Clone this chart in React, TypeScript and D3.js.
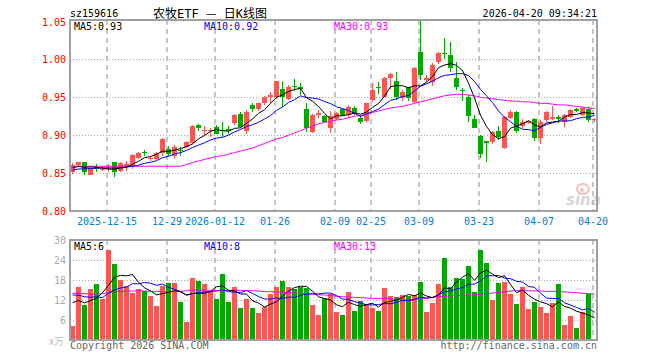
import React, { useEffect, useRef } from "react";
import * as d3 from "d3";

// trading days shown on the chart
const tradeDates = [
  "2025-12-05", "2025-12-08", "2025-12-09", "2025-12-10", "2025-12-11", "2025-12-12",
  "2025-12-15", "2025-12-16", "2025-12-17", "2025-12-18", "2025-12-19",
  "2025-12-22", "2025-12-23", "2025-12-24", "2025-12-25", "2025-12-26",
  "2025-12-29", "2025-12-30", "2025-12-31",
  "2026-01-05", "2026-01-06", "2026-01-07", "2026-01-08", "2026-01-09",
  "2026-01-12", "2026-01-13", "2026-01-14", "2026-01-15", "2026-01-16",
  "2026-01-19", "2026-01-20", "2026-01-21", "2026-01-22", "2026-01-23",
  "2026-01-26", "2026-01-27", "2026-01-28", "2026-01-29", "2026-01-30",
  "2026-02-02", "2026-02-03", "2026-02-04", "2026-02-05", "2026-02-06",
  "2026-02-09", "2026-02-10", "2026-02-11", "2026-02-12", "2026-02-13",
  "2026-02-24", "2026-02-25", "2026-02-26", "2026-02-27",
  "2026-03-02", "2026-03-03", "2026-03-04", "2026-03-05", "2026-03-06",
  "2026-03-09", "2026-03-10", "2026-03-11", "2026-03-12", "2026-03-13",
  "2026-03-16", "2026-03-17", "2026-03-18", "2026-03-19", "2026-03-20",
  "2026-03-23", "2026-03-24", "2026-03-25", "2026-03-26", "2026-03-27",
  "2026-03-30", "2026-03-31", "2026-04-01", "2026-04-02", "2026-04-03",
  "2026-04-07", "2026-04-08", "2026-04-09", "2026-04-10",
  "2026-04-13", "2026-04-14", "2026-04-15", "2026-04-16", "2026-04-17",
  "2026-04-20"
];

const openPrices = [
  0.851, 0.861, 0.864, 0.848, 0.858, 0.855, 0.856, 0.864, 0.853, 0.860,
  0.859, 0.870, 0.878, 0.868, 0.869, 0.876, 0.882, 0.872, 0.881, 0.885,
  0.890, 0.913, 0.906, 0.906, 0.911, 0.907, 0.908, 0.916, 0.928, 0.906,
  0.940, 0.934, 0.942, 0.951, 0.950, 0.961, 0.948, 0.965, 0.963, 0.934,
  0.904, 0.927, 0.925, 0.910, 0.922, 0.934, 0.927, 0.936, 0.923, 0.919,
  0.946, 0.963, 0.951, 0.975, 0.972, 0.949, 0.963, 0.944, 1.010, 0.973,
  0.970, 0.997, 1.009, 1.006, 0.975, 0.960, 0.951, 0.922, 0.899, 0.892,
  0.891, 0.906, 0.883, 0.923, 0.930, 0.912, 0.916, 0.921, 0.896, 0.920,
  0.922, 0.924, 0.918, 0.924, 0.935, 0.926, 0.935, 0.920
];

const highPrices = [
  0.863, 0.865, 0.864, 0.858, 0.862, 0.860, 0.862, 0.865, 0.864, 0.866,
  0.875, 0.878, 0.881, 0.873, 0.878, 0.896, 0.886, 0.887, 0.885, 0.892,
  0.913, 0.915, 0.912, 0.909, 0.913, 0.918, 0.912, 0.928, 0.930, 0.933,
  0.942, 0.943, 0.952, 0.957, 0.972, 0.971, 0.966, 0.974, 0.969, 0.943,
  0.928, 0.933, 0.926, 0.932, 0.930, 0.935, 0.940, 0.938, 0.927, 0.943,
  0.969, 0.970, 0.977, 0.982, 0.983, 0.960, 0.964, 0.990, 1.052, 0.980,
  0.995, 1.010, 1.028, 1.023, 0.997, 0.962, 0.953, 0.927, 0.900, 0.892,
  0.905, 0.912, 0.925, 0.933, 0.932, 0.921, 0.920, 0.923, 0.920, 0.932,
  0.938, 0.927, 0.928, 0.935, 0.936, 0.937, 0.937, 0.923
];

const lowPrices = [
  0.849, 0.860, 0.848, 0.847, 0.852, 0.853, 0.852, 0.845, 0.851, 0.853,
  0.855, 0.868, 0.873, 0.866, 0.867, 0.873, 0.873, 0.869, 0.872, 0.883,
  0.889, 0.905, 0.900, 0.898, 0.901, 0.897, 0.901, 0.913, 0.909, 0.902,
  0.930, 0.932, 0.940, 0.943, 0.948, 0.937, 0.946, 0.958, 0.953, 0.904,
  0.903, 0.923, 0.916, 0.903, 0.920, 0.925, 0.923, 0.927, 0.915, 0.918,
  0.944, 0.955, 0.950, 0.961, 0.947, 0.945, 0.945, 0.943, 0.973, 0.970,
  0.965, 0.994, 1.000, 0.983, 0.960, 0.945, 0.918, 0.910, 0.870, 0.865,
  0.889, 0.894, 0.882, 0.921, 0.903, 0.910, 0.915, 0.893, 0.889, 0.918,
  0.920, 0.916, 0.911, 0.923, 0.930, 0.925, 0.918, 0.918
];

const closePrices = [
  0.861, 0.864, 0.851, 0.857, 0.855, 0.856, 0.857, 0.852, 0.863, 0.862,
  0.874, 0.877, 0.876, 0.870, 0.877, 0.895, 0.875, 0.885, 0.879, 0.891,
  0.912, 0.909, 0.907, 0.907, 0.902, 0.905, 0.905, 0.926, 0.911, 0.931,
  0.934, 0.942, 0.950, 0.953, 0.971, 0.950, 0.964, 0.963, 0.961, 0.909,
  0.927, 0.929, 0.918, 0.925, 0.929, 0.927, 0.937, 0.928, 0.918, 0.942,
  0.959, 0.962, 0.976, 0.981, 0.950, 0.957, 0.949, 0.989, 0.980, 0.975,
  0.993, 1.008, 1.007, 0.989, 0.964, 0.958, 0.925, 0.910, 0.875, 0.890,
  0.904, 0.898, 0.924, 0.930, 0.905, 0.918, 0.919, 0.896, 0.917, 0.931,
  0.924, 0.922, 0.926, 0.933, 0.932, 0.936, 0.920, 0.921
];

// 万 (10k) shares
const volumes = [
  4.2, 15.9, 10.5, 15.3, 16.8, 12.3, 27.0, 22.8, 18.0, 16.2,
  14.2, 15.3, 14.7, 13.2, 10.2, 16.3, 17.1, 17.1, 11.4, 5.4,
  18.6, 17.7, 16.8, 14.4, 12.3, 19.8, 11.4, 15.9, 9.6, 12.3,
  9.6, 8.1, 9.9, 13.8, 15.9, 17.7, 15.9, 15.3, 15.9, 15.6,
  10.5, 7.5, 12.6, 13.8, 8.5, 7.5, 14.4, 8.7, 11.7, 10.8,
  9.6, 8.7, 15.6, 13.2, 12.9, 13.5, 13.2, 13.5, 17.4, 8.4,
  11.1, 16.8, 24.6, 15.9, 18.6, 18.3, 22.2, 14.4, 27.0, 23.1,
  12.0, 17.1, 17.4, 13.8, 10.8, 15.9, 9.3, 11.4, 9.9, 8.1,
  11.1, 16.8, 4.5, 7.2, 3.6, 8.4, 13.8, 0.3
];

// days before the visible window, only used to start the short averages
const earlierCloses = [0.850, 0.849, 0.853, 0.851, 0.852, 0.855, 0.857, 0.854, 0.858];
const earlierVolumes = [16.5, 15.0, 17.2, 14.8, 15.5, 12.6, 14.1, 11.9, 13.2];

// MA30
const priceMa30 = [
  0.859, 0.859, 0.859, 0.859, 0.859, 0.859, 0.859, 0.859, 0.859, 0.859,
  0.859, 0.859, 0.859, 0.859, 0.859, 0.859, 0.859, 0.859, 0.859, 0.861,
  0.864, 0.866, 0.868, 0.870, 0.872, 0.873, 0.875, 0.877, 0.879, 0.881,
  0.883, 0.886, 0.889, 0.892, 0.895, 0.897, 0.900, 0.903, 0.906, 0.909,
  0.912, 0.915, 0.917, 0.918, 0.920, 0.921, 0.923, 0.925, 0.926, 0.928,
  0.930, 0.932, 0.934, 0.936, 0.937, 0.938, 0.940, 0.942, 0.944, 0.946,
  0.948, 0.950, 0.952, 0.953, 0.954, 0.954, 0.953, 0.952, 0.950, 0.949,
  0.948, 0.947, 0.946, 0.945, 0.945, 0.944, 0.944, 0.943, 0.942, 0.942,
  0.941, 0.940, 0.940, 0.939, 0.938, 0.937, 0.936, 0.935
];

const volumeMa30 = [
  14.0, 14.0, 13.9, 13.8, 13.8, 13.9, 14.2, 14.5, 14.6, 14.6,
  14.7, 14.7, 14.7, 14.6, 14.6, 14.5, 14.5, 14.5, 14.6, 14.8,
  15.0, 15.0, 14.9, 14.9, 14.8, 14.8, 14.8, 14.8, 14.8, 14.8,
  14.8, 14.7, 14.5, 14.5, 14.4, 14.3, 14.2, 14.1, 14.0, 13.9,
  13.8, 13.6, 13.5, 13.4, 13.1, 13.0, 12.9, 12.8, 12.7, 12.6,
  12.5, 12.5, 12.4, 12.3, 12.2, 12.1, 12.0, 12.1, 12.3, 12.5,
  12.8, 13.0, 13.1, 13.2, 13.3, 13.4, 13.5, 13.6, 13.8, 14.0,
  14.1, 14.3, 14.5, 14.7, 14.8, 14.8, 14.8, 14.7, 14.7, 14.6,
  14.6, 14.5, 14.4, 14.3, 14.2, 14.0, 13.9, 13.8
];

const priceTicks = [0.8, 0.85, 0.9, 0.95, 1.0, 1.05];
const volumeTicks = [0, 6, 12, 18, 24, 30];
const tickDates = [
  "2025-12-15", "2025-12-29", "2026-01-12", "2026-01-26", "2026-02-09",
  "2026-02-25", "2026-03-09", "2026-03-23", "2026-04-07", "2026-04-20"
];
const priceMaLabels = ["MA5:0.93", "MA10:0.92", "MA30:0.93"];
const volumeMaLabels = ["MA5:6", "MA10:8", "MA30:13"];

const UP = "#ff5555";
const DOWN = "#00a800";
const MA_COLORS = ["#000000", "#0000ff", "#ff00ff"];
const MONO = "'DejaVu Sans Mono', monospace";
const CJK = "'Noto Sans CJK SC', sans-serif";

function movingAverage(values: number[], earlier: number[], n: number) {
  const all = earlier.concat(values);
  const off = earlier.length;
  return values.map((_, i) =>
    d3.mean(all.slice(Math.max(0, off + i - n + 1), off + i + 1)) as number
  );
}

export default function App() {
  const chartRef = useRef<SVGSVGElement>(null);

  useEffect(() => {
    const svg = d3.select(chartRef.current);
    const n = closePrices.length;
    const left = 70;
    const right = 597;
    const price = { top: 20, bottom: 211 };
    const vol = { top: 240, bottom: 340 };

    const x = d3
      .scaleBand<number>()
      .domain(d3.range(n))
      .range([left, left + n * 6]);
    const cx = (i: number) => (x(i) as number) + 2.5;

    const yPrice = d3.scaleLinear().domain([0.8, 1.05]).range([price.bottom, 21.5]);
    const yVol = d3.scaleLinear().domain([0, 30]).range([vol.bottom, vol.top]);

    const isUp = (i: number) => closePrices[i] >= openPrices[i];
    const color = (i: number) => (isUp(i) ? UP : DOWN);

    svg.append("rect").attr("width", 660).attr("height", 360).attr("fill", "#fff");

    // header
    svg.append("text").attr("x", 70).attr("y", 17).attr("font-family", MONO)
      .attr("font-size", 10).text("sz159616");
    const title = svg.append("text").attr("x", 210).attr("y", 18).attr("text-anchor", "middle")
      .attr("font-family", `'DejaVu Sans Mono', ${CJK}`).attr("font-size", 12);
    title.append("tspan").text("农牧ETF ");
    title.append("tspan").attr("font-family", CJK).text("—");
    title.append("tspan").text(" 日K线图");
    svg.append("text").attr("x", 597).attr("y", 17).attr("text-anchor", "end")
      .attr("font-family", MONO).attr("font-size", 10).text("2026-04-20 09:34:21");

    const tickIdx = tickDates.map(d => tradeDates.indexOf(d));

    const panel = (top: number, bottom: number, yTicks: number[], y: d3.ScaleLinear<number, number>) => {
      const g = svg.append("g");
      g.selectAll("line.h")
        .data(yTicks.slice(1, -1))
        .join("line")
        .attr("x1", left).attr("x2", right)
        .attr("y1", d => Math.round(y(d)) + 0.5).attr("y2", d => Math.round(y(d)) + 0.5)
        .attr("stroke", "#aaa").attr("stroke-dasharray", "1,2");
      g.selectAll("line.v")
        .data(tickIdx)
        .join("line")
        .attr("x1", i => (x(i) as number) + 1).attr("x2", i => (x(i) as number) + 1)
        .attr("y1", top).attr("y2", bottom)
        .attr("stroke", "#b4b4b4").attr("stroke-width", 1.5).attr("stroke-dasharray", "5,4");
      return g;
    };

    panel(price.top, price.bottom, priceTicks, yPrice);
    panel(vol.top, vol.bottom, volumeTicks, yVol);

    // price axis labels
    svg.append("g").selectAll("text").data(priceTicks).join("text")
      .attr("x", 66).attr("y", d => yPrice(d) + 4).attr("text-anchor", "end")
      .attr("font-family", MONO).attr("font-size", 10).attr("fill", "#ff0000")
      .text(d => d.toFixed(2));

    // volume axis labels
    svg.append("g").selectAll("text").data(volumeTicks.slice(1)).join("text")
      .attr("x", 66).attr("y", d => yVol(d) + 4).attr("text-anchor", "end")
      .attr("font-family", MONO).attr("font-size", 10).attr("fill", "#aaa")
      .text(d => d);
    svg.append("text").attr("x", 64).attr("y", 345).attr("text-anchor", "end")
      .attr("font-family", CJK).attr("font-size", 10)
      .attr("fill", "#bbb").text("x万");

    // date labels
    svg.append("g").selectAll("text").data(tickDates).join("text")
      .attr("x", (d, k) => (x(tickIdx[k]) as number) + 1)
      .attr("y", 225).attr("text-anchor", "middle")
      .attr("font-family", MONO).attr("font-size", 10).attr("fill", "#0080d8")
      .text((d, k) => (k === 0 || d.slice(0, 4) !== tickDates[k - 1].slice(0, 4) ? d : d.slice(5)));

    // sina watermark
    const wm = svg.append("g").attr("opacity", 0.5);
    wm.append("ellipse").attr("cx", 583).attr("cy", 189).attr("rx", 6).attr("ry", 5)
      .attr("fill", "none").attr("stroke", "#f08080").attr("stroke-width", 2);
    wm.append("circle").attr("cx", 582).attr("cy", 190).attr("r", 2).attr("fill", "#f08080");
    wm.append("text").attr("x", 566).attr("y", 205).attr("font-family", "'DejaVu Sans', sans-serif")
      .attr("font-size", 15).attr("font-style", "italic").attr("font-weight", "bold")
      .attr("fill", "#b0b0b0").text("sina");

    // candles
    const candles = svg.append("g").selectAll("g").data(d3.range(n)).join("g");
    candles.append("rect")
      .attr("x", i => (x(i) as number) + 2).attr("width", 1)
      .attr("y", i => Math.round(yPrice(highPrices[i])))
      .attr("height", i => Math.max(1, Math.round(yPrice(lowPrices[i])) - Math.round(yPrice(highPrices[i]))))
      .attr("fill", color);
    candles.append("rect")
      .attr("x", i => x(i) as number).attr("width", 5)
      .attr("y", i => Math.round(yPrice(Math.max(openPrices[i], closePrices[i]))))
      .attr("height", i => Math.max(1,
        Math.round(yPrice(Math.min(openPrices[i], closePrices[i]))) -
        Math.round(yPrice(Math.max(openPrices[i], closePrices[i])))))
      .attr("fill", color);

    // volume bars
    svg.append("g").selectAll("rect").data(d3.range(n)).join("rect")
      .attr("x", i => x(i) as number).attr("width", 5)
      .attr("y", i => Math.round(yVol(volumes[i])))
      .attr("height", i => vol.bottom - Math.round(yVol(volumes[i])))
      .attr("fill", color);

    // moving averages
    const priceMas = [
      movingAverage(closePrices, earlierCloses, 5),
      movingAverage(closePrices, earlierCloses, 10),
      priceMa30
    ];
    const volumeMas = [
      movingAverage(volumes, earlierVolumes, 5),
      movingAverage(volumes, earlierVolumes, 10),
      volumeMa30
    ];
    const lineP = d3.line<number>().x((d, i) => cx(i)).y(d => yPrice(d));
    const lineV = d3.line<number>().x((d, i) => cx(i)).y(d => yVol(d));
    [2, 1, 0].forEach(k => {
      svg.append("path").attr("d", lineP(priceMas[k])).attr("fill", "none")
        .attr("stroke", MA_COLORS[k]).attr("stroke-width", 1);
      svg.append("path").attr("d", lineV(volumeMas[k])).attr("fill", "none")
        .attr("stroke", MA_COLORS[k]).attr("stroke-width", 1);
    });

    // MA legends
    [priceMaLabels, volumeMaLabels].forEach((labels, p) => {
      svg.append("g").selectAll("text").data(labels).join("text")
        .attr("x", (d, k) => 74 + k * 130).attr("y", p === 0 ? 30 : 250)
        .attr("font-family", MONO).attr("font-size", 10)
        .attr("fill", (d, k) => MA_COLORS[k])
        .text(d => d);
    });

    // frames
    [price, vol].forEach(pane => {
      svg.append("rect")
        .attr("x", left).attr("y", pane.top)
        .attr("width", right - left).attr("height", pane.bottom - pane.top)
        .attr("fill", "none").attr("stroke", "#a0a0a0").attr("stroke-width", 2);
    });

    // footer
    svg.append("text").attr("x", 70).attr("y", 349).attr("font-family", MONO)
      .attr("font-size", 10).attr("fill", "#666").text("Copyright 2026 SINA.COM");
    svg.append("text").attr("x", 597).attr("y", 349).attr("text-anchor", "end")
      .attr("font-family", MONO).attr("font-size", 10).attr("fill", "#666")
      .text("http://finance.sina.com.cn");

    return () => {
      svg.selectAll("*").remove();
    };
  }, []);

  return (
    <svg
      ref={chartRef}
      width={660}
      height={360}
      style={{ position: "absolute", left: 0, top: 0 }}
    />
  );
}
